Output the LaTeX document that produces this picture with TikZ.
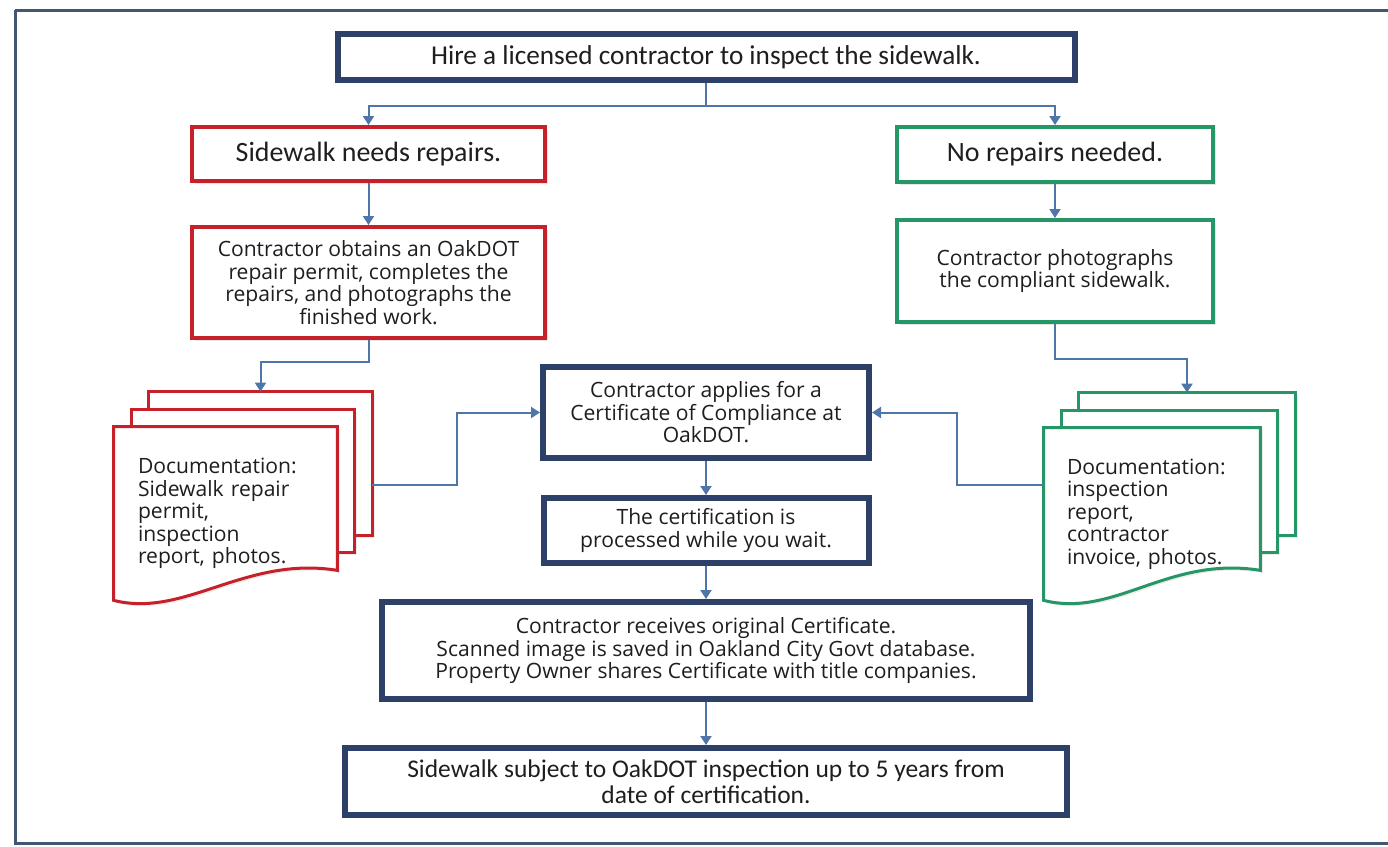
\documentclass[tikz,border=0pt]{standalone}
\usepackage{fontspec}
\setmainfont{Carlito}
\newfontfamily\bodyfont{Open Sans}
\definecolor{frameblue}{RGB}{66, 86, 112}
\definecolor{boxblue}{RGB}{44, 64, 104}
\definecolor{boxred}{RGB}{198, 32, 42}
\definecolor{boxgreen}{RGB}{38, 150, 102}
\definecolor{linkblue}{RGB}{78, 118, 168}
\definecolor{inkgray}{RGB}{30, 30, 30}
\usetikzlibrary{arrows.meta, positioning, calc, shadows}

\begin{document}
\begin{tikzpicture}[
  base/.style={fill=white, text=inkgray, align=center, inner sep=0pt, drop shadow={opacity=0.2, shadow xshift=0.06cm, shadow yshift=-0.06cm}},
  bluebox/.style={base, draw=boxblue, line width=0.12cm},
  redbox/.style={base, draw=boxred, line width=0.08cm},
  greenbox/.style={base, draw=boxgreen, line width=0.08cm},
  head/.style={font=\fontsize{15.9}{18}\selectfont},
  body/.style={font=\bodyfont\fontsize{12}{12.8}\selectfont},
  docnode/.style={body, text=inkgray, align=left, inner sep=0pt},
  sheet/.style={fill=white, line width=0.06cm, drop shadow={opacity=0.15, shadow xshift=0.05cm, shadow yshift=-0.05cm}},
  link/.style={draw=linkblue, line width=0.04cm, -{Triangle[width=0.22cm, length=0.18cm]}}
]
  \useasboundingbox (0,0) rectangle (27.76,-16.94);
  \draw[frameblue, line width=0.06cm] (0.3,-0.2) -- (29.5,-0.2) (0.3,-0.2) -- (0.3,-16.86) -- (29.5,-16.86);

  \node[bluebox, minimum width=14.74cm, minimum height=0.92cm, font=\fontsize{15.5}{18}\selectfont] (hire) at (14.12,-1.14)
    {Hire a licensed contractor to inspect the sidewalk.};

  \node[redbox, head, minimum width=7.06cm, minimum height=1.08cm] (repair) at (7.37,-3.08)
    {Sidewalk needs repairs.};
  \node[greenbox, head, minimum width=6.32cm, minimum height=1.1cm] (norepair) at (21.1,-3.09)
    {No repairs needed.};

  \node[redbox, body, minimum width=7.06cm, minimum height=2.22cm] (permit) at (7.37,-5.65)
    {Contractor obtains an OakDOT\\ repair permit, completes the\\ repairs, and photographs the\\ finished work.};
  \node[greenbox, body, minimum width=6.32cm, minimum height=2.04cm] (photo) at (21.1,-5.42)
    {Contractor photographs\\ the compliant sidewalk.};

  \node[bluebox, body, minimum width=6.52cm, minimum height=1.82cm] (apply) at (14.12,-8.25)
    {Contractor applies for a\\ Certificate of Compliance at\\ OakDOT.};
  \node[bluebox, body, minimum width=6.5cm, minimum height=1.3cm] (process) at (14.12,-10.61)
    {The certification is\\ processed while you wait.};
  \node[bluebox, body, minimum width=12.96cm, minimum height=1.94cm] (receive) at (14.12,-13.01)
    {Contractor receives original Certificate.\\ Scanned image is saved in Oakland City Govt database.\\ Property Owner shares Certificate with title companies.};
  \node[bluebox, minimum width=14.44cm, minimum height=1.34cm, font=\fontsize{14.5}{14.8}\selectfont] (subject) at (14.12,-15.63)
    {Sidewalk subject to OakDOT inspection up to 5 years from\\ date of certification.};

  \node[minimum width=4.46cm, minimum height=3.46cm, inner sep=0pt] (docL) at (4.51,-10.27) {};
  \foreach \k in {2,1}
    \draw[sheet, draw=boxred] ([shift={(0.35*\k,0.35*\k)}]docL.north west) rectangle ([shift={(0.35*\k,0.35*\k+0.6)}]docL.south east);
  \draw[sheet, draw=boxred] (docL.north west) -- (docL.north east) -- ([yshift=0.6cm]docL.south east)
    .. controls +(-1.84,0.3) and +(1.42,-0.36) .. (docL.south west) -- cycle;
  \node[docnode, text width=3.5cm] (docLtext) at (docL)
    {Documentation:\\ Sidewalk repair\\ permit,\\ inspection\\ report, photos.};

  \node[minimum width=4.32cm, minimum height=3.44cm, inner sep=0pt] (docR) at (23.04,-10.28) {};
  \foreach \k in {2,1}
    \draw[sheet, draw=boxgreen] ([shift={(0.35*\k,0.35*\k)}]docR.north west) rectangle ([shift={(0.35*\k,0.35*\k+0.6)}]docR.south east);
  \draw[sheet, draw=boxgreen] (docR.north west) -- (docR.north east) -- ([yshift=0.6cm]docR.south east)
    .. controls +(-1.84,0.3) and +(1.42,-0.36) .. (docR.south west) -- cycle;
  \node[docnode, text width=3.4cm] (docRtext) at (docR)
    {Documentation:\\ inspection\\ report,\\ contractor\\ invoice, photos.};

  \coordinate (docLtop) at ([shift={(0.7,0.7)}]docL.north);
  \coordinate (docLside) at ([shift={(0.7,0.58)}]docL.east);
  \coordinate (docRtop) at ([shift={(0.7,0.7)}]docR.north);
  \coordinate (docRside) at ([yshift=0.58cm]docR.west);

  \draw[link] (hire.south) -- ++(0,-0.46) -| (repair.north);
  \draw[link] (hire.south) -- ++(0,-0.46) -| (norepair.north);
  \draw[link] (repair.south) -- (permit.north);
  \draw[link] (norepair.south) -- (photo.north);
  \draw[link] (permit.south) -- ++(0,-0.44) -| (docLtop);
  \draw[link] (photo.south) -- ++(0,-0.7) -| (docRtop);
  \draw[link] (docLside) -- ++(1.7,0) |- (apply.west);
  \draw[link] (docRside) -- ++(-1.74,0) |- (apply.east);
  \draw[link] (apply.south) -- (process.north);
  \draw[link] (process.south) -- (receive.north);
  \draw[link] (receive.south) -- (subject.north);
\end{tikzpicture}
\end{document}
